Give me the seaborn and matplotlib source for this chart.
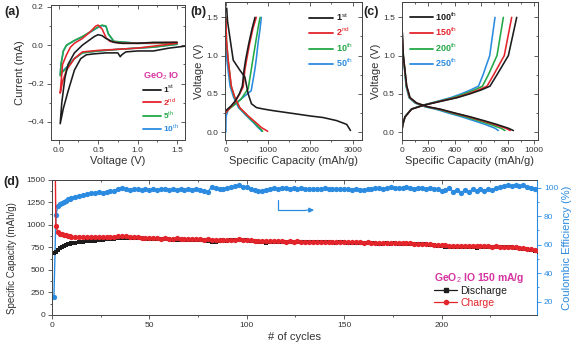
import numpy as np
import pandas as pd
import seaborn as sns
import matplotlib.pyplot as plt
from matplotlib.ticker import MultipleLocator
from matplotlib.lines import Line2D

sns.set_style("white")
plt.rcParams['font.family'] = ['Liberation Sans', 'DejaVu Sans']
plt.rcParams['mathtext.fontset'] = 'custom'
plt.rcParams['mathtext.rm'] = 'Liberation Sans'
plt.rcParams['mathtext.bf'] = 'Liberation Sans:bold'

BLACK = '#1c1c1c'
RED = '#e3242b'
GREEN = '#22a845'
BLUE = '#2b8be0'
MAGENTA = '#d6339f'
AXC = '#444444'

# ---- (a) CV curves: voltage (V) / current (mA), cathodic then anodic sweep
cv1_v = [1.6, 1.4, 1.2, 1.0, 0.85, 0.8, 0.78, 0.75, 0.6, 0.45, 0.35, 0.28, 0.2, 0.12, 0.06, 0.02,
         0.04, 0.08, 0.12, 0.2, 0.3, 0.4, 0.45, 0.5, 0.55, 0.6, 0.7, 0.8, 1.0, 1.2, 1.5]
cv1_i = [-0.005, -0.015, -0.03, -0.03, -0.035, -0.05, -0.06, -0.04, -0.04, -0.045, -0.05, -0.07, -0.13, -0.24, -0.33, -0.41,
         -0.3, -0.17, -0.1, -0.04, 0.0, 0.03, 0.045, 0.055, 0.05, 0.035, 0.015, 0.01, 0.01, 0.015, 0.015]
cv2_v = [1.5, 1.2, 1.0, 0.8, 0.5, 0.3, 0.2, 0.1, 0.05, 0.02,
         0.05, 0.1, 0.15, 0.2, 0.3, 0.4, 0.47, 0.5, 0.55, 0.6, 0.65, 0.8, 1.0, 1.5]
cv2_i = [0.01, -0.005, -0.015, -0.02, -0.027, -0.035, -0.07, -0.13, -0.19, -0.25,
         -0.1, -0.05, -0.01, 0.01, 0.035, 0.07, 0.1, 0.105, 0.085, 0.04, 0.02, 0.01, 0.01, 0.015]
cv5_v = [1.5, 1.2, 0.8, 0.5, 0.3, 0.2, 0.1, 0.05, 0.02,
         0.03, 0.06, 0.1, 0.2, 0.3, 0.4, 0.5, 0.55, 0.6, 0.63, 0.7, 1.0, 1.5]
cv5_i = [0.005, -0.01, -0.02, -0.03, -0.04, -0.07, -0.12, -0.14, -0.16,
         -0.1, -0.03, 0.0, 0.025, 0.045, 0.07, 0.095, 0.105, 0.1, 0.06, 0.02, 0.01, 0.01]
cv10_v = [1.5, 1.2, 0.8, 0.5, 0.3, 0.2, 0.1, 0.05, 0.02,
          0.03, 0.06, 0.1, 0.2, 0.3, 0.4, 0.5, 0.55, 0.6, 0.63, 0.7, 1.0, 1.5]
cv10_i = [0.005, -0.01, -0.02, -0.03, -0.04, -0.07, -0.115, -0.135, -0.155,
          -0.1, -0.03, 0.0, 0.024, 0.044, 0.068, 0.093, 0.102, 0.098, 0.058, 0.02, 0.01, 0.01]

# ---- (b) early galvanostatic curves: capacity (mAh/g) / voltage (V)
b1_dis_c = [20, 40, 95, 175, 330, 450, 528, 606, 724, 900, 1118, 1500, 2000, 2300, 2620, 2860, 2950]
b1_dis_v = [1.62, 1.45, 1.24, 0.94, 0.81, 0.72, 0.5, 0.37, 0.32, 0.3, 0.28, 0.25, 0.21, 0.19, 0.15, 0.1, 0.02]
b1_chg_c = [0, 40, 120, 213, 320, 390, 430, 470, 540, 620, 690]
b1_chg_v = [0.28, 0.3, 0.34, 0.4, 0.5, 0.6, 0.81, 0.95, 1.15, 1.35, 1.5]
dis_v = [1.5, 1.2, 0.94, 0.6, 0.46, 0.32, 0.21, 0.12, 0.06, 0.03, 0.01]
b2_dis_c = [0, 15, 55, 130, 210, 330, 530, 720, 840, 930, 990]
b10_dis_c = [0, 15, 55, 125, 200, 320, 510, 680, 780, 845, 870]
b50_dis_c = [0, 5, 25, 100, 180, 300, 490, 660, 760, 820, 845]
b2_chg_c = [0, 40, 120, 213, 330, 410, 450, 490, 560, 640, 720]
b2_chg_v = [0.25, 0.28, 0.33, 0.39, 0.5, 0.59, 0.81, 0.94, 1.15, 1.35, 1.5]
b10_chg_c = [0, 40, 120, 213, 360, 530, 600, 640, 700, 760, 810]
b10_chg_v = [0.25, 0.28, 0.32, 0.36, 0.43, 0.57, 0.81, 0.95, 1.15, 1.35, 1.5]
b50_chg_c = [0, 5, 60, 200, 400, 600, 685, 720, 760, 810, 840]
b50_chg_v = [0.0, 0.2, 0.3, 0.36, 0.45, 0.54, 0.81, 0.95, 1.15, 1.35, 1.5]

# ---- (c) later galvanostatic curves
c_dis_v = [1.5, 1.25, 1.0, 0.6, 0.45, 0.38, 0.33, 0.3, 0.25, 0.2, 0.15, 0.1, 0.05, 0.02]
c100_dis = [0, 5, 12, 38, 63, 113, 200, 290, 400, 516, 620, 718, 806, 844]
c150_dis = [0, 5, 12, 37, 61, 110, 195, 283, 390, 503, 604, 700, 785, 820]
c200_dis = [0, 5, 12, 35, 58, 105, 185, 270, 372, 480, 577, 668, 750, 780]
c250_dis = [0, 5, 11, 33, 55, 100, 175, 255, 350, 452, 543, 630, 705, 730]
c_chg_v = [0.0, 0.1, 0.2, 0.3, 0.35, 0.4, 0.45, 0.5, 0.55, 0.6, 0.75, 1.0, 1.5]
c100_chg = [0, 8, 25, 75, 164, 290, 420, 516, 600, 667, 720, 806, 869]
c150_chg = [0, 8, 25, 75, 164, 285, 410, 500, 580, 645, 695, 775, 831]
c200_chg = [0, 8, 25, 73, 160, 275, 390, 475, 550, 610, 655, 720, 768]
c250_chg = [0, 8, 25, 72, 155, 265, 370, 450, 520, 580, 615, 665, 705]

# ---- (d) cycling at 150 mA/g
cycles = list(range(1, 11)) + list(range(12, 251, 2))
charge = [2950, 990, 920, 905, 895, 890, 884, 880, 875, 872,
          868, 866, 864, 862, 861, 862, 863, 865, 866, 868,
          870, 874, 877, 873, 869, 866, 862, 860, 856, 852,
          855, 851, 849, 852, 848, 846, 850, 846, 843, 845,
          842, 844, 840, 838, 841, 836, 838, 834, 832, 830,
          835, 838, 840, 836, 832, 828, 826, 824, 822, 820,
          822, 819, 821, 818, 816, 819, 815, 817, 814, 816,
          815, 813, 816, 812, 814, 811, 813, 810, 812, 812,
          810, 808, 810, 807, 805, 806, 803, 804, 801, 800,
          802, 799, 800, 797, 798, 795, 796, 793, 792, 790,
          788, 785, 783, 780, 776, 773, 770, 768, 770, 767,
          768, 765, 766, 763, 764, 761, 762, 760, 761, 758,
          760, 757, 755, 752, 748, 742, 735, 728, 720, 710]
discharge = [690, 705, 722, 740, 752, 765, 775, 784, 790, 795,
             803, 810, 816, 820, 824, 827, 831, 835, 839, 843,
             848, 855, 860, 858, 855, 857, 852, 851, 848, 846,
             849, 845, 842, 846, 840, 836, 838, 832, 835, 838,
             836, 838, 832, 828, 820, 815, 812, 826, 828, 826,
             830, 834, 837, 832, 828, 822, 818, 812, 806, 805,
             810, 814, 816, 813, 811, 814, 810, 812, 809, 811,
             810, 808, 811, 806, 809, 806, 808, 805, 807, 807,
             805, 803, 805, 802, 799, 800, 796, 795, 793, 794,
             796, 794, 795, 792, 793, 790, 791, 788, 787, 785,
             784, 781, 778, 772, 765, 760, 756, 752, 754, 750,
             752, 750, 752, 748, 750, 755, 758, 754, 756, 752,
             755, 752, 750, 747, 743, 737, 730, 722, 712, 700]
efficiency = [23.5, 80.5, 87.5, 88.5, 89.0, 90.0, 91.0, 91.8, 92.3, 92.8,
              93.5, 94.2, 95.0, 95.4, 96.0, 96.3, 96.8, 96.5, 97.2, 97.4,
              98.0, 99.4, 99.8, 99.2, 98.6, 99.3, 98.8, 98.4, 99.0, 98.6,
              98.9, 98.3, 98.8, 99.2, 98.5, 98.9, 98.4, 99.1, 98.7, 99.0,
              98.6, 99.1, 98.3, 97.8, 96.8, 100.8, 99.5, 98.9, 99.4, 99.8,
              100.4, 101.0, 101.6, 100.8, 100.2, 99.0, 98.2, 97.8, 98.0, 98.6,
              99.3, 99.8, 99.2, 99.6, 100.0, 99.4, 99.7, 99.1, 99.5, 99.2,
              99.0, 99.4, 98.9, 99.2, 99.5, 99.0, 99.3, 98.8, 99.2, 99.4,
              99.0, 98.6, 99.1, 98.7, 98.4, 98.8, 99.3, 99.6, 100.0, 99.4,
              99.8, 100.2, 99.6, 100.1, 99.7, 100.3, 99.8, 99.4, 99.9, 99.5,
              99.2, 99.6, 98.8, 99.4, 97.4, 98.6, 99.8, 97.2, 98.4, 96.6,
              98.2, 97.0, 98.8, 97.8, 99.0, 98.0, 99.2, 98.6, 99.5, 100.4,
              101.2, 101.8, 101.4, 102.0, 101.2, 101.6, 100.6, 100.0, 98.8, 96.8]


def style(ax, xmaj, xmin, ymaj, ymin, top_ticks=True, right_ticks=True):
    for s in ax.spines.values():
        s.set_color(AXC)
        s.set_linewidth(0.7)
        s.set_visible(True)
    ax.xaxis.set_major_locator(MultipleLocator(xmaj))
    ax.xaxis.set_minor_locator(MultipleLocator(xmin))
    ax.yaxis.set_major_locator(MultipleLocator(ymaj))
    ax.yaxis.set_minor_locator(MultipleLocator(ymin))
    ax.tick_params(which='both', direction='out', width=0.6, color=AXC,
                   labelsize=6, labelcolor='#333333', pad=2,
                   bottom=True, left=True, top=False, right=False)
    ax.tick_params(which='major', length=3)
    ax.tick_params(which='minor', length=1.6)
    if top_ticks:
        t = ax.secondary_xaxis('top')
        t.xaxis.set_major_locator(MultipleLocator(xmaj))
        t.xaxis.set_minor_locator(MultipleLocator(xmin))
        t.tick_params(which='both', direction='in', width=0.6, color=AXC, labeltop=False)
        t.tick_params(which='major', length=3)
        t.tick_params(which='minor', length=1.6)
        t.spines['top'].set_color(AXC)
        t.spines['top'].set_linewidth(0.7)
    if right_ticks:
        r = ax.secondary_yaxis('right')
        r.yaxis.set_major_locator(MultipleLocator(ymaj))
        r.yaxis.set_minor_locator(MultipleLocator(ymin))
        r.tick_params(which='both', direction='in', width=0.6, color=AXC, labelright=False)
        r.tick_params(which='major', length=3)
        r.tick_params(which='minor', length=1.6)
        r.spines['right'].set_color(AXC)
        r.spines['right'].set_linewidth(0.7)


def curve(ax, x, y, color, lw=1.15):
    sns.lineplot(x=x, y=y, ax=ax, color=color, linewidth=lw, sort=False, estimator=None)


fig = plt.figure(figsize=(5.85, 3.55), dpi=100)
lab_kw = dict(fontsize=8, color='#333333')

# (a)
ax_a = fig.add_axes([0.0867, 0.6056, 0.2295, 0.3803])
curve(ax_a, cv10_v, cv10_i, BLUE)
curve(ax_a, cv5_v, cv5_i, GREEN)
curve(ax_a, cv2_v, cv2_i, RED)
curve(ax_a, cv1_v, cv1_i, BLACK)
ax_a.set_xlim(-0.1, 1.6)
ax_a.set_ylim(-0.495, 0.21)
style(ax_a, 0.5, 0.25, 0.2, 0.1)
ax_a.set_xlabel('Voltage (V)', labelpad=1.5, **lab_kw)
ax_a.set_ylabel('Current (mA)', labelpad=1.5, **lab_kw)
h_a = [Line2D([], [], color=c, lw=1.3) for c in (BLACK, RED, GREEN, BLUE)]
leg = ax_a.legend(h_a, ['1$^{\\rm st}$', '2$^{\\rm nd}$', '5$^{\\rm th}$', '10$^{\\rm th}$'],
                  loc='lower right', frameon=False, fontsize=6, labelcolor='linecolor',
                  title='GeO$_2$ IO', title_fontsize=6.5, handlelength=2.2, handletextpad=0.2,
                  labelspacing=0.15, borderaxespad=0.3)
leg.get_title().set_color(MAGENTA)
leg.get_title().set_fontweight('bold')
for t in leg.get_texts():
    t.set_fontweight('bold')

# (b)
ax_b = fig.add_axes([0.3846, 0.6056, 0.2337, 0.3887])
for cc, vv, col in [(b50_dis_c, dis_v, BLUE), (b50_chg_c, b50_chg_v, BLUE),
                    (b10_dis_c, dis_v, GREEN), (b10_chg_c, b10_chg_v, GREEN),
                    (b2_dis_c, dis_v, RED), (b2_chg_c, b2_chg_v, RED),
                    (b1_dis_c, b1_dis_v, BLACK), (b1_chg_c, b1_chg_v, BLACK)]:
    curve(ax_b, cc, vv, col)
ax_b.set_xlim(-20, 3215)
ax_b.set_ylim(-0.104, 1.70)
style(ax_b, 1000, 500, 0.5, 0.25)
ax_b.set_xlabel('Specific Capacity (mAh/g)', labelpad=1.5, **lab_kw)
ax_b.set_ylabel('Voltage (V)', labelpad=1.5, **lab_kw)
leg = ax_b.legend(h_a, ['1$^{\\rm st}$', '2$^{\\rm nd}$', '10$^{\\rm th}$', '50$^{\\rm th}$'],
                  loc='upper right', frameon=False, fontsize=6.5, labelcolor='linecolor',
                  handlelength=2.6, handletextpad=0.3, labelspacing=0.35, borderaxespad=0.6)
for t in leg.get_texts():
    t.set_fontweight('bold')

# (c)
ax_c = fig.add_axes([0.6867, 0.6056, 0.233, 0.3887])
for dis, chg, col in [(c250_dis, c250_chg, BLUE), (c200_dis, c200_chg, GREEN),
                      (c150_dis, c150_chg, RED), (c100_dis, c100_chg, BLACK)]:
    curve(ax_c, dis, c_dis_v, col)
    curve(ax_c, chg, c_chg_v, col)
ax_c.set_xlim(0, 1030)
ax_c.set_ylim(-0.104, 1.70)
style(ax_c, 200, 100, 0.5, 0.25)
ax_c.set_xlabel('Specific Capacity (mAh/g)', labelpad=1.5, **lab_kw)
ax_c.set_ylabel('Voltage (V)', labelpad=1.5, **lab_kw)
leg = ax_c.legend(h_a, ['100$^{\\rm th}$', '150$^{\\rm th}$', '200$^{\\rm th}$', '250$^{\\rm th}$'],
                  loc='upper left', frameon=False, fontsize=6.5, labelcolor='linecolor',
                  handlelength=2.6, handletextpad=0.2, labelspacing=0.35, borderaxespad=0.5)
for t in leg.get_texts():
    t.set_fontweight('bold')

# (d)
ax_d = fig.add_axes([0.0889, 0.1127, 0.829, 0.3803])
df = pd.DataFrame({'cycle': cycles, 'charge': charge, 'discharge': discharge, 'ce': efficiency})
sns.lineplot(data=df, x='cycle', y='discharge', ax=ax_d, color=BLACK, marker='s',
             markersize=3.4, markeredgewidth=0, linewidth=1.0, estimator=None)
sns.lineplot(data=df, x='cycle', y='charge', ax=ax_d, color=RED, marker='o',
             markersize=3.8, markeredgewidth=0, linewidth=1.0, estimator=None)
ax_d.set_xlim(0, 249)
ax_d.set_ylim(0, 1500)
style(ax_d, 50, 25, 250, 125, right_ticks=False)
ax_d.spines['right'].set_visible(False)
ax_d.set_xlabel('# of cycles', labelpad=2, **lab_kw)
ax_d.set_ylabel('Specific Capacity (mAh/g)', fontsize=7, color='#333333')
ax_d.yaxis.set_label_coords(-0.072, 0.42)

ax_e = ax_d.twinx()
sns.lineplot(data=df, x='cycle', y='ce', ax=ax_e, color=BLUE, marker='o',
             markersize=3.8, markeredgewidth=0, linewidth=1.0, estimator=None)
ax_e.set_ylim(10.7, 105.4)
ax_e.yaxis.set_major_locator(MultipleLocator(20))
ax_e.yaxis.set_minor_locator(MultipleLocator(10))
ax_e.tick_params(which='both', direction='out', color=BLUE, width=0.6, labelsize=6,
                 labelcolor=BLUE, pad=2)
ax_e.tick_params(which='major', length=3)
ax_e.tick_params(which='minor', length=1.6)
ax_e.set_ylabel('Coulombic Efficiency (%)', fontsize=8, color=BLUE, labelpad=3)
for side, s in ax_e.spines.items():
    s.set_visible(side == 'right')
ax_e.spines['right'].set_color(BLUE)
ax_e.spines['right'].set_linewidth(0.8)

# L-shaped arrow pointing to CE axis
ax_d.plot([116, 116, 130], [1280, 1165, 1165], color=BLUE, lw=0.9)
ax_d.annotate('', xy=(136, 1165), xytext=(129, 1165),
              arrowprops=dict(arrowstyle='-|>', color=BLUE, lw=0.9, mutation_scale=7))

h_d = [Line2D([], [], color=BLACK, marker='s', markersize=3, lw=0.9),
       Line2D([], [], color=RED, marker='o', markersize=3, lw=0.9)]
leg = ax_d.legend(h_d, ['Discharge', 'Charge'], loc='lower right', bbox_to_anchor=(0.99, 0.0),
                  frameon=False, fontsize=7.5, labelcolor='linecolor', title='GeO$_2$ IO 150 mA/g',
                  title_fontsize=7.5, handlelength=2.2, handletextpad=0.3, labelspacing=0.15,
                  borderaxespad=0.3)
leg.get_title().set_color(MAGENTA)
leg.get_title().set_fontweight('bold')
leg._legend_box.align = 'left'
ax_d.set_zorder(ax_e.get_zorder() + 1)
ax_d.patch.set_visible(False)

for txt, x, y in [('(a)', 0.008, 0.965), ('(b)', 0.326, 0.965), ('(c)', 0.622, 0.965), ('(d)', 0.005, 0.488)]:
    fig.text(x, y, txt, fontsize=9, fontweight='bold', color='#222222', va='center')

fig.savefig('out.png', dpi=100, facecolor='white')
